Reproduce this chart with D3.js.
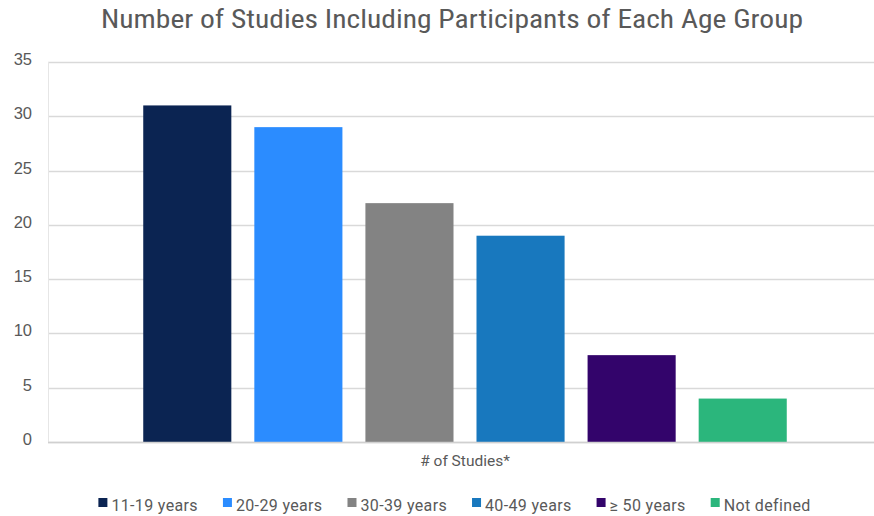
<!DOCTYPE html>
<html>
<head>
<meta charset="utf-8">
<script src="https://cdn.jsdelivr.net/npm/d3@7/dist/d3.min.js"></script>
<style>
  html, body { margin: 0; padding: 0; background: #ffffff; }
  svg { display: block; }
</style>
</head>
<body>
<svg id="chart" width="874" height="516"></svg>
<script>
// Chart data
const title = "Number of Studies Including Participants of Each Age Group";
const category = "# of Studies*";
const ageGroups = ["11-19 years", "20-29 years", "30-39 years", "40-49 years", "\u2265 50 years", "Not defined"];
const studyCounts = [31, 29, 22, 19, 8, 4];
const groupColors = ["#0b2452", "#2b8cff", "#838383", "#1878be", "#33046b", "#2bb67c"];
const yTicks = [0, 5, 10, 15, 20, 25, 30, 35];

const W = 874, H = 516;
const margin = { top: 62, right: -8, bottom: 74, left: 48 };
const svg = d3.select("#chart");
const textColor = "#595959";
const gridColor = "#d9d9d9";
const condensed = "'Roboto Condensed', 'Liberation Sans Narrow', 'Arial Narrow', Roboto, sans-serif";
const regular = "Roboto, 'Liberation Sans', Arial, sans-serif";

const y = d3.scaleLinear().domain([0, 35]).range([H - margin.bottom, margin.top]);
const x0 = d3.scaleBand().domain([category])
  .range([margin.left, W - margin.right]).paddingInner(0).paddingOuter(0.148);
const x1 = d3.scaleBand().domain(ageGroups)
  .range([0, x0.bandwidth()]).paddingInner(0.207).paddingOuter(0);
const color = d3.scaleOrdinal().domain(ageGroups).range(groupColors);

// Title
svg.append("text")
  .attr("x", (margin.left + W - margin.right) / 2 - 13)
  .attr("y", 28)
  .attr("text-anchor", "middle")
  .attr("fill", textColor)
  .style("font-family", condensed)
  .style("font-size", "25px")
  .attr("textLength", 702)
  .attr("lengthAdjust", "spacingAndGlyphs")
  .text(title);

// Gridlines
svg.append("g")
  .selectAll("line")
  .data(yTicks)
  .join("line")
  .attr("x1", margin.left)
  .attr("x2", W - margin.right)
  .attr("y1", d => Math.round(y(d)) + 0.5)
  .attr("y2", d => Math.round(y(d)) + 0.5)
  .attr("stroke", gridColor)
  .attr("stroke-width", 1.3);

// Left frame line
svg.append("line")
  .attr("x1", margin.left + 0.5).attr("x2", margin.left + 0.5)
  .attr("y1", y(35)).attr("y2", y(0))
  .attr("stroke", "#e6e6e6").attr("stroke-width", 1);

// Y axis labels
const yAxis = svg.append("g")
  .attr("transform", `translate(${margin.left},0)`)
  .call(d3.axisLeft(y).tickValues(yTicks).tickSize(0).tickPadding(16))
  .attr("font-family", "'Liberation Sans', Arial, sans-serif")
  .attr("font-size", 16.5);
yAxis.select(".domain").remove();
yAxis.selectAll("text")
  .attr("fill", textColor)
  .attr("dy", "0.15em");

// Bars
svg.append("g")
  .selectAll("rect")
  .data(ageGroups.map((g, i) => ({ group: g, value: studyCounts[i] })))
  .join("rect")
  .attr("x", d => x0(category) + x1(d.group))
  .attr("y", d => y(d.value))
  .attr("width", x1.bandwidth())
  .attr("height", d => y(0) - y(d.value))
  .attr("fill", d => color(d.group));

// Baseline
svg.append("line")
  .attr("x1", margin.left).attr("x2", W - margin.right)
  .attr("y1", Math.round(y(0)) + 0.5).attr("y2", Math.round(y(0)) + 0.5)
  .attr("stroke", "#d0d0d0").attr("stroke-width", 1.3);

// Category label
svg.append("text")
  .attr("x", x0(category) + x0.bandwidth() / 2)
  .attr("y", y(0) + 24)
  .attr("text-anchor", "middle")
  .attr("fill", textColor)
  .style("font-family", regular)
  .style("font-size", "15.5px")
  .text(category);

// Legend: items flow left to right, centred under the plot
const legend = svg.append("g");
const swatch = 9, swatchGap = 4, itemGap = 25;
const items = legend.selectAll("g")
  .data(ageGroups)
  .join("g");
items.append("rect")
  .attr("width", swatch).attr("height", swatch)
  .attr("y", -swatch + 1)
  .attr("fill", d => color(d));
items.append("text")
  .attr("x", swatch + swatchGap)
  .attr("y", 0)
  .attr("dy", "0.3em")
  .attr("fill", textColor)
  .style("font-family", regular)
  .style("font-size", "16px")
  .style("letter-spacing", "0.35px")
  .text(d => d);
let cursor = 0;
items.each(function () {
  const tw = d3.select(this).select("text").node().getComputedTextLength();
  d3.select(this).attr("transform", `translate(${cursor},0)`);
  cursor += swatch + swatchGap + tw + itemGap;
});
const legendWidth = cursor - itemGap;
legend.attr("transform", `translate(${(97 + 812) / 2 - legendWidth / 2},506)`);
</script>
</body>
</html>
